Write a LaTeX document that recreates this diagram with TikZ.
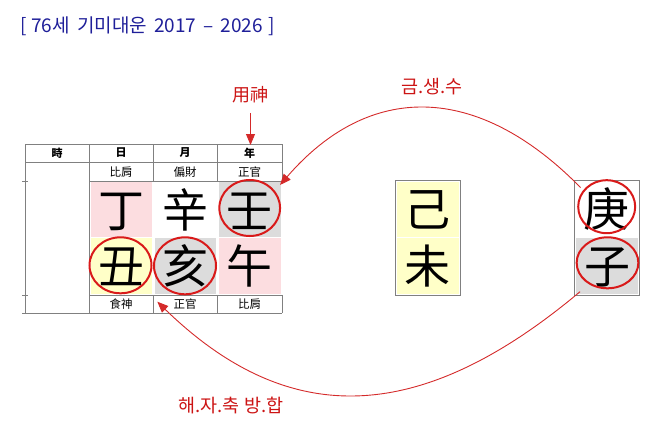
\documentclass[tikz,border=0pt]{standalone}
\usepackage{fontspec}
\usetikzlibrary{arrows.meta,shapes.geometric,calc}
\newfontfamily\krfont{Noto Sans CJK KR}
\newfontfamily\tcfont{Noto Sans CJK TC}
\definecolor{titleblue}{HTML}{1F1F99}
\definecolor{lblred}{HTML}{CC1414}
\definecolor{ringred}{HTML}{D91A1A}
\definecolor{curvered}{HTML}{D42A2A}
\definecolor{gridgray}{HTML}{808080}
\definecolor{cellpink}{HTML}{FCDDE0}
\definecolor{cellgray}{HTML}{DCDCDC}
\definecolor{cellyellow}{HTML}{FFFFC8}
\begin{document}
\begin{tikzpicture}[x=1pt,y=-1pt,
  grid/.style={draw=gridgray, line width=0.9pt},
  cellbox/.style={minimum width=61pt, minimum height=55pt, inner sep=0pt, outer sep=0pt,
    text height=40.5pt, text depth=5.5pt, font=\tcfont\fontsize{46}{46}\selectfont},
  ring/.style={ellipse, draw=ringred, line width=2pt, inner sep=0pt},
  small/.style={font=\tcfont\fontsize{11.5}{11.5}\selectfont, inner sep=0pt},
  head/.style={font=\tcfont\bfseries\fontsize{11}{11}\selectfont, inner sep=0pt},
  redlabel/.style={text=lblred, font=\krfont\fontsize{18.5}{18.5}\selectfont, inner sep=0pt},
  link/.style={draw=curvered, line width=0.9pt, -{Triangle[length=11pt,width=9pt]}}
]
\useasboundingbox (0,0) rectangle (658,433);
% title
\node[anchor=west, text=titleblue, font=\krfont\fontsize{19}{19}\selectfont, inner sep=0pt] (title) at (20,26.7)
  {[\hspace{4.5pt}76세\hspace{7.5pt}기미대운\hspace{7pt}2017\hspace{7pt}–\hspace{7pt}2026\hspace{5.5pt}]};
% table grid
\draw[grid] (25,144) -- (282,144);
\draw[grid] (25,162) -- (282,162);
\draw[grid] (89,181) -- (282,181);
\draw[grid] (22,181) -- (28,181);
\draw[grid] (89,295) -- (282,295);
\draw[grid] (22,295) -- (28,295);
\draw[grid] (22,313) -- (282,313);
\draw[grid] (25,144) -- (25,313);
\draw[grid] (89,144) -- (89,313);
\foreach \x in {153,217,282} {
  \draw[grid] (\x,144) -- (\x,181);
  \draw[grid] (\x,295) -- (\x,313);
}
% header
\node[head] (hsi) at (57,153) {時};
\node[head] (hil) at (121,153) {日};
\node[head] (hwol) at (185,153) {月};
\node[head] (hyeon) at (249.5,153) {年};
\node[small] (t1) at (121,172) {比肩};
\node[small] (t2) at (185,172) {偏財};
\node[small] (t3) at (249.5,172) {正官};
\node[small] (u1) at (121,304) {食神};
\node[small] (u2) at (185,304) {正官};
\node[small] (u3) at (249.5,304) {比肩};
% cells
\node[cellbox, fill=cellpink] (s1) at (121,209.5) {丁};
\node[cellbox] (s2) at (185,209.5) {辛};
\node[cellbox, fill=cellgray, minimum width=62pt] (s3) at (249.5,209.5) {壬};
\node[cellbox, fill=cellyellow, minimum height=56pt] (b1) at (121,266) {丑};
\node[cellbox, fill=cellgray, minimum height=56pt] (b2) at (185,266) {亥};
\node[cellbox, fill=cellpink, minimum height=56pt, minimum width=62pt] (b3) at (249.5,266) {午};
% daewoon box
\draw[grid] (395,180) rectangle (460,295);
\node[cellbox, fill=cellyellow, minimum width=62pt] (g1) at (427.5,209) {己};
\node[cellbox, fill=cellyellow, minimum width=62pt, minimum height=56pt] (g2) at (427.5,265.5) {未};
% year box
\draw[grid] (574,180) rectangle (639,295);
\node[cellbox, minimum width=62pt] (y1) at (606.5,209) {庚};
\node[cellbox, fill=cellgray, minimum width=62pt, minimum height=56pt] (y2) at (607,265.5) {子};
% rings
\node[ring, minimum width=60.7pt, minimum height=56pt] (rim) at (249.7,208) {};
\node[ring, minimum width=62pt, minimum height=56pt] (rchuk) at (120.5,265.3) {};
\node[ring, minimum width=62pt, minimum height=57pt] (rhae) at (185,265.8) {};
\node[ring, minimum width=57pt, minimum height=53pt] (rgeng) at (606.7,206.7) {};
\node[ring, minimum width=61.7pt, minimum height=51pt] (rja) at (607.5,262.8) {};
% labels
\node[redlabel, font=\krfont\fontsize{18}{18}\selectfont] (ys) at (250,95) {用神};
\node[redlabel] (gss) at (431.7,86.7) {금.생.수};
\node[redlabel] (hjc) at (231,405) {해.자.축 방.합};
% connectors
\coordinate (ysStart) at (250.5,113);
\coordinate (ysTip) at (250.5,145);
\draw[link] (ysStart) -- (ysTip);
\coordinate (gengStart) at (580.5,187.5);
\coordinate (imTip) at (280,185);
\draw[link] (gengStart) .. controls (477,82) and (369,82) .. (imTip);
\coordinate (jaStart) at (580,291.7);
\coordinate (haeTip) at (157.3,301.7);
\draw[link] (jaStart) .. controls (418,427.7) and (287,427.7) .. (haeTip);
\end{tikzpicture}
\end{document}
